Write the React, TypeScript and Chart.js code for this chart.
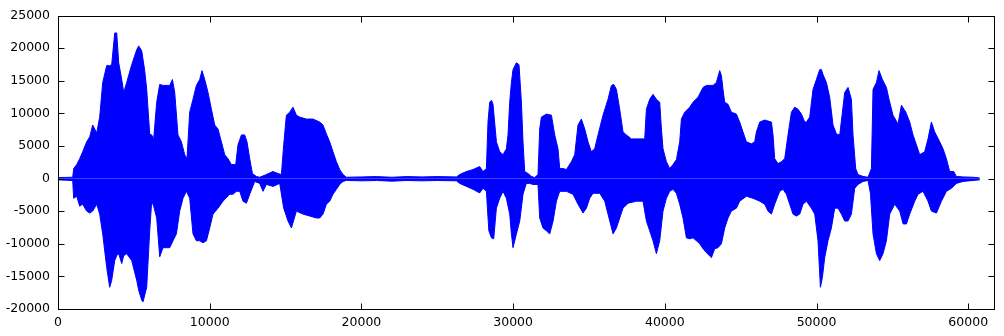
import React, { useEffect, useRef } from "react";
import { Chart, registerables } from "chart.js";

Chart.register(...registerables);

// Waveform envelope: [sample index, amplitude]
const upperEnvelope: [number, number][] = [
  [0, 150], [970, 200], [1035, 1530], [1233, 2140], [1430, 3050], [1628, 4110], [1891, 5630], [2090, 6390],
  [2287, 8210], [2551, 6990], [2749, 9420], [2947, 14730], [3211, 17310], [3408, 17310], [3540, 17460],
  [3738, 22320], [3870, 22320], [4002, 17760], [4200, 15190], [4331, 13210], [4529, 14730], [4859, 17460],
  [5189, 19740], [5320, 20340], [5518, 19580], [5715, 16550], [5847, 13670], [6045, 6840], [6177, 6690],
  [6308, 6080], [6506, 11700], [6705, 14430], [6922, 14280], [7364, 14280], [7541, 15190], [7693, 13210],
  [7910, 6690], [8134, 5630], [8351, 3660], [8503, 3050], [8681, 10180], [8899, 12150], [9123, 14280],
  [9341, 15190], [9492, 16550], [9670, 15190], [9888, 13210], [10112, 10630], [10330, 8210], [10547, 7600],
  [10771, 5630], [10989, 3660], [11206, 3050], [11430, 2140], [11714, 2140], [11866, 5170], [12090, 6690],
  [12307, 6690], [12459, 5630], [12637, 3050], [12815, 770], [13079, 320], [13296, 200], [13738, 620],
  [14173, 1080], [14502, 770], [14727, 620], [14878, 5170], [15056, 9720], [15274, 10180], [15491, 10940],
  [15715, 9720], [15933, 9420], [16374, 9120], [16810, 9120], [17251, 8660], [17469, 8210], [17693, 6840],
  [17910, 5630], [18128, 4110], [18352, 2590], [18569, 1380], [18787, 620], [19011, 200], [20000, 250],
  [21000, 300], [22000, 200], [23000, 300], [24000, 250], [25000, 300], [26262, 250], [26480, 620],
  [26922, 1080], [27357, 1380], [27798, 1840], [28016, 1080], [28240, 1530], [28346, 8700], [28458, 11700],
  [28570, 12000], [28675, 11390], [28899, 5630], [29117, 4110], [29334, 3660], [29558, 4570], [29664, 6690],
  [29776, 11700], [29888, 14730], [29994, 16700], [30218, 17760], [30389, 17460], [30547, 11700], [30653, 5630],
  [30765, 1080], [30982, 770], [31206, 320], [31424, 150], [31642, 620], [31754, 7600], [31866, 9420],
  [32195, 9880], [32525, 9720], [32743, 6690], [32960, 4570], [33072, 1530], [33290, 1530], [33514, 1380],
  [33843, 2590], [34061, 3660], [34278, 8210], [34502, 9120], [34720, 7600], [34938, 5630], [35162, 4110],
  [35379, 4570], [35597, 6690], [35927, 9720], [36256, 12150], [36480, 14280], [36632, 14430], [36810, 13670],
  [37027, 10630], [37245, 7150], [37469, 6690], [37799, 6080], [38128, 6080], [38675, 6080], [38787, 10630],
  [39005, 12150], [39222, 12910], [39446, 12150], [39664, 11700], [39776, 7600], [39881, 4570], [40105, 2590],
  [40323, 1530], [40540, 2140], [40765, 2900], [40982, 5630], [41094, 9120], [41312, 10180], [41642, 10940],
  [41859, 11700], [42189, 12460], [42519, 13970], [42743, 14280], [43178, 14280], [43402, 14730], [43619, 16550],
  [43731, 15800], [43837, 13670], [43949, 11700], [44166, 11390], [44390, 10180], [44720, 9880], [44937, 8660],
  [45155, 7150], [45379, 5630], [45709, 5320], [45926, 5630], [46038, 7150], [46256, 8660], [46586, 8970],
  [47027, 8660], [47133, 6690], [47245, 3050], [47462, 2290], [47686, 2590], [47904, 3050], [48122, 6690],
  [48346, 10180], [48564, 10940], [48781, 10630], [49005, 9880], [49223, 8660], [49335, 8660], [49552, 9420],
  [49770, 13670], [49994, 15190], [50211, 16700], [50323, 16700], [50429, 15940], [50653, 14730], [50870, 12460],
  [51088, 8210], [51312, 6840], [51530, 6690], [51708, 10180], [51860, 13210], [52077, 13970], [52301, 12150],
  [52406, 6690], [52584, 1530], [52736, 620], [53066, 320], [53395, 200], [53619, 1530], [53725, 13670],
  [53949, 14730], [54120, 16550], [54344, 15190], [54608, 13970], [54779, 12150], [55042, 9720], [55373, 8360],
  [55597, 11240], [55887, 10180], [56144, 8660], [56362, 6690], [56586, 5170], [56803, 3660], [57133, 4110],
  [57350, 6080], [57574, 8660], [57792, 7150], [58122, 5630], [58339, 4570], [58563, 3050], [58781, 1080],
  [59045, 1080], [59222, 320], [59658, 250], [60318, 200], [60760, 100],
];

const lowerEnvelope: [number, number][] = [
  [0, -200], [970, -300], [1035, -3020], [1233, -2720], [1430, -4230], [1628, -3930], [1891, -4990],
  [2090, -5290], [2287, -4990], [2551, -3930], [2749, -5450], [2947, -8480], [3211, -13640], [3408, -16670],
  [3540, -15610], [3738, -12580], [3870, -11820], [4002, -11510], [4200, -13030], [4331, -11820], [4529, -11510],
  [4859, -12580], [5189, -15610], [5320, -17130], [5518, -18640], [5606, -18900], [5847, -16670], [6045, -8020],
  [6177, -3470], [6308, -4230], [6506, -6050], [6705, -12000], [6922, -10600], [7364, -10600], [7581, -9540],
  [7805, -8480], [8023, -4990], [8240, -3020], [8464, -1960], [8681, -3020], [8899, -8480], [9123, -9540],
  [9341, -9540], [9558, -9850], [9783, -9540], [10000, -7570], [10218, -5450], [10547, -4540], [10877, -3470],
  [11318, -2410], [11536, -2410], [11760, -1960], [11978, -1960], [12195, -3470], [12419, -3780], [12637, -2410],
  [12967, -440], [13296, -740], [13514, -1960], [13738, -900], [14173, -1200], [14614, -740], [14878, -4540],
  [15162, -6510], [15386, -7570], [15715, -4990], [16150, -5450], [16592, -5750], [17034, -6050], [17251, -6050],
  [17469, -5450], [17693, -3930], [17910, -3470], [18128, -2410], [18352, -1650], [18569, -900], [18787, -440],
  [19011, -290], [20000, -350], [21000, -300], [22000, -400], [23000, -300], [24000, -350], [25000, -300],
  [26262, -350], [26480, -740], [26922, -1200], [27357, -1650], [27798, -2200], [28016, -1500], [28240, -1960],
  [28400, -8000], [28570, -9090], [28720, -9240], [28899, -4540], [29117, -3020], [29334, -1960], [29558, -3020],
  [29776, -5450], [29888, -8480], [29994, -10600], [30218, -8480], [30438, -6510], [30653, -2410], [30870, -740],
  [31090, -740], [31310, -900], [31642, -900], [31754, -6050], [31970, -7570], [32195, -8020], [32415, -8480],
  [32635, -6510], [32855, -3470], [33072, -1960], [33514, -1960], [33950, -2410], [34278, -3930], [34610, -5290],
  [34830, -4540], [35050, -3020], [35270, -2260], [35710, -2260], [36040, -3470], [36256, -5450], [36590, -8480],
  [36810, -7570], [37027, -6050], [37245, -4540], [37580, -3780], [38128, -3470], [38565, -3470], [38787, -6510],
  [39005, -8020], [39222, -9540], [39446, -11510], [39664, -9540], [39881, -4990], [40105, -3020], [40323, -1960],
  [40540, -1650], [40765, -2260], [40982, -3930], [41200, -6050], [41424, -9090], [41642, -9240], [41859, -9090],
  [42083, -9540], [42301, -10000], [42519, -10750], [42743, -11360], [43072, -12120], [43290, -10750],
  [43507, -10600], [43731, -10000], [43949, -7570], [44166, -6050], [44390, -4990], [44720, -4540], [44937, -3470],
  [45379, -2720], [45814, -3020], [46256, -3470], [46586, -3930], [46803, -4990], [47027, -5450], [47245, -3930],
  [47574, -1960], [47792, -1650], [48016, -2410], [48234, -3930], [48452, -5450], [48676, -5750], [48893, -5450],
  [49111, -3930], [49335, -3470], [49664, -4540], [49882, -5450], [50099, -9540], [50257, -16670], [50389, -15150],
  [50541, -12120], [50758, -9540], [50982, -7570], [51200, -4540], [51418, -4540], [51642, -5450], [51860, -6510],
  [52077, -6510], [52301, -5450], [52518, -1500], [52736, -900], [53066, -440], [53395, -290], [53554, -2260],
  [53725, -8480], [53949, -11510], [54166, -12580], [54384, -11510], [54608, -9540], [54825, -5450], [55155, -3930],
  [55485, -4990], [55709, -6960], [55926, -6960], [56144, -5450], [56474, -3470], [56691, -2410], [57021, -1960],
  [57350, -3470], [57574, -4990], [57904, -5290], [58234, -3470], [58563, -1960], [58893, -1500], [59222, -740],
  [59658, -440], [60318, -290], [60760, -200],
];

const xTicks = [0, 10000, 20000, 30000, 40000, 50000, 60000];
const yTicks = [-20000, -15000, -10000, -5000, 0, 5000, 10000, 15000, 20000, 25000];
const X_MIN = 0;
const X_MAX = 61700;
const Y_MIN = -20000;
const Y_MAX = 25000;

const WAVE_COLOR = "#0000ff";
const FONT = { family: "'DejaVu Sans', sans-serif", size: 12.5 };

const framePlugin = {
  id: "gnuplotFrame",
  afterDraw(chart: any) {
    const { ctx, chartArea: a, scales } = chart;
    const L = Math.round(a.left) + 0.5;
    const R = Math.round(a.right) + 0.5;
    const T = Math.round(a.top) + 0.5;
    const B = Math.round(a.bottom) + 0.5;
    const len = 6;
    ctx.save();
    ctx.strokeStyle = "#000";
    ctx.lineWidth = 1;
    ctx.beginPath();
    for (const v of xTicks) {
      const px = Math.round(scales.x.getPixelForValue(v)) + 0.5;
      ctx.moveTo(px, B);
      ctx.lineTo(px, B - len);
      ctx.moveTo(px, T);
      ctx.lineTo(px, T + len);
    }
    for (const v of yTicks) {
      const py = Math.round(scales.y.getPixelForValue(v)) + 0.5;
      ctx.moveTo(L, py);
      ctx.lineTo(L + len, py);
      ctx.moveTo(R, py);
      ctx.lineTo(R - len, py);
    }
    ctx.stroke();
    ctx.strokeRect(L, T, R - L, B - T);
    ctx.restore();
  },
};

export default function App() {
  const canvasRef = useRef<HTMLCanvasElement | null>(null);

  useEffect(() => {
    const canvas = canvasRef.current;
    if (!canvas) return;
    const mk = (env: [number, number][]) => env.map(([x, y]) => ({ x, y }));
    const chart = new Chart(canvas, {
      type: "line",
      data: {
        datasets: [
          {
            data: mk(upperEnvelope),
            borderColor: WAVE_COLOR,
            backgroundColor: WAVE_COLOR,
            borderWidth: 1,
            pointRadius: 0,
            tension: 0,
            fill: "origin",
          },
          {
            data: mk(lowerEnvelope),
            borderColor: WAVE_COLOR,
            backgroundColor: WAVE_COLOR,
            borderWidth: 1,
            pointRadius: 0,
            tension: 0,
            fill: "origin",
          },
        ],
      },
      options: {
        animation: false,
        responsive: false,
        devicePixelRatio: 1,
        layout: { padding: { top: 12, right: 10, left: 0, bottom: 0 } },
        plugins: {
          legend: { display: false },
          tooltip: { enabled: false },
        },
        scales: {
          x: {
            type: "linear",
            min: X_MIN,
            max: X_MAX,
            grid: { display: false, drawTicks: false },
            border: { display: false },
            ticks: {
              font: FONT,
              color: "#000",
              padding: 6,
              maxRotation: 0,
              autoSkip: false,
              includeBounds: false,
              callback: (v: any) => String(v),
            },
            afterBuildTicks: (s: any) => {
              s.ticks = xTicks.map((value) => ({ value }));
            },
            afterFit: (s: any) => {
              s.height = 27;
            },
          },
          y: {
            type: "linear",
            min: Y_MIN,
            max: Y_MAX,
            grid: { display: false, drawTicks: false },
            border: { display: false },
            ticks: {
              font: FONT,
              color: "#000",
              padding: 8,
              autoSkip: false,
              callback: (v: any) => String(v),
            },
            afterBuildTicks: (s: any) => {
              s.ticks = yTicks.map((value) => ({ value }));
            },
            afterFit: (s: any) => {
              s.width = 58;
            },
          },
        },
      },
      plugins: [framePlugin],
    });
    return () => chart.destroy();
  }, []);

  return (
    <div style={{ position: "absolute", left: 0, top: 0, width: 1004, height: 336, background: "#fff" }}>
      <canvas ref={canvasRef} width={1004} height={336} style={{ display: "block" }} />
    </div>
  );
}
